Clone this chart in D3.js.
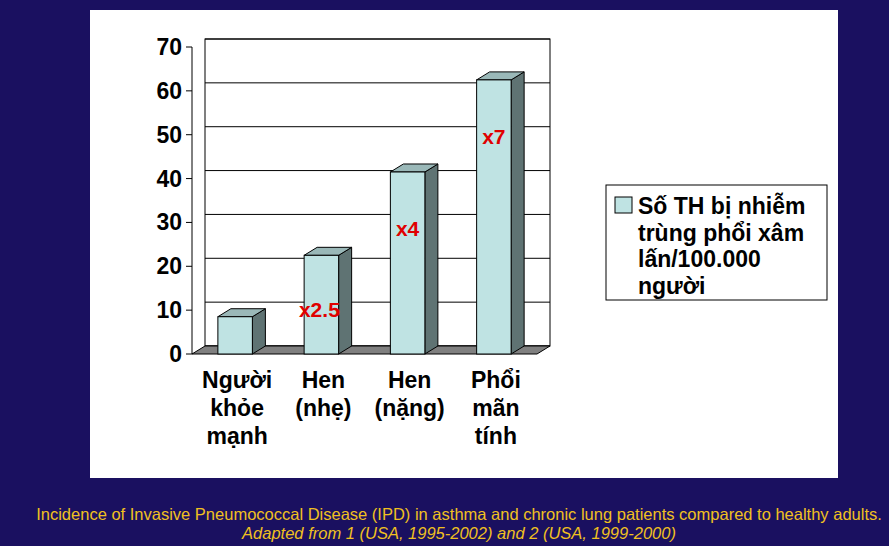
<!DOCTYPE html>
<html><head><meta charset="utf-8">
<script src="https://cdn.jsdelivr.net/npm/d3@7"></script>
<style>body{margin:0;background:#1a1060;}svg{display:block}</style>
</head><body>
<script>
const categories = [["Người", "khỏe", "mạnh"], ["Hen", "(nhẹ)"], ["Hen", "(nặng)"], ["Phổi", "mãn", "tính"]];
const values = [8.5, 22.5, 41.5, 62.5];
const multipliers = ["", "x2.5", "x4", "x7"];
const ticks = [0, 10, 20, 30, 40, 50, 60, 70];
const legendLines = ["Số TH bị nhiễm", "trùng phổi xâm", "lấn/100.000", "người"];
const footer = ["Incidence of Invasive Pneumococcal Disease (IPD) in asthma and chronic lung patients compared to healthy adults.",
  "Adapted from 1 (USA, 1995-2002) and 2 (USA, 1999-2000)"];

const W = 889, H = 546, dx = 13, dy = 8;
const svg = d3.select("body").append("svg").attr("width", W).attr("height", H)
  .attr("font-family", "Arial, 'Liberation Sans', sans-serif");
svg.append("rect").attr("width", W).attr("height", H).attr("fill", "#1a1060");
svg.append("rect").attr("x", 90).attr("y", 10).attr("width", 748).attr("height", 468).attr("fill", "#fff");

const x = d3.scaleBand().domain(d3.range(values.length)).range([192, 537]).paddingInner(0.6).paddingOuter(0.3);
const y = d3.scaleLinear().domain([0, 70]).range([354, 47]);
const x0 = x.range()[0], x1 = x.range()[1];

const g = svg.append("g");
// back wall + gridlines
g.append("rect").attr("x", x0 + dx).attr("y", y(70) - dy).attr("width", x1 - x0)
  .attr("height", y(0) - y(70)).attr("fill", "#fff").attr("stroke", "#000");
g.selectAll("line.grid").data(ticks).join("line")
  .attr("x1", x0 + dx).attr("x2", x1 + dx)
  .attr("y1", d => y(d) - dy).attr("y2", d => y(d) - dy).attr("stroke", "#000");
// floor
g.append("path").attr("d", `M${x0},${y(0)}L${x0 + dx},${y(0) - dy}L${x1 + dx},${y(0) - dy}L${x1},${y(0)}Z`)
  .attr("fill", "#808080").attr("stroke", "#000");

// axis
g.selectAll("text.tick").data(ticks).join("text")
  .attr("x", 182).attr("y", d => y(d) + 8).attr("text-anchor", "end")
  .attr("font-size", 23).attr("font-weight", "bold").attr("fill", "#000").text(d => d);
g.selectAll("line.tk").data(ticks).join("line")
  .attr("x1", x0 - 6).attr("x2", x0).attr("y1", d => y(d)).attr("y2", d => y(d)).attr("stroke", "#000");
g.append("line").attr("x1", x0).attr("x2", x0).attr("y1", y(0)).attr("y2", y(70)).attr("stroke", "#000");

// bars
const bars = g.selectAll("g.bar").data(values).join("g");
bars.append("path").attr("d", (d, i) => {
  const a = x(i) + x.bandwidth(), t = y(d);
  return `M${a},${t}L${a + dx},${t - dy}L${a + dx},${y(0) - dy}L${a},${y(0)}Z`;
}).attr("fill", "#5f7373").attr("stroke", "#000");
bars.append("path").attr("d", (d, i) => {
  const a = x(i), b = a + x.bandwidth(), t = y(d);
  return `M${a},${t}L${a + dx},${t - dy}L${b + dx},${t - dy}L${b},${t}Z`;
}).attr("fill", "#9ab8b8").attr("stroke", "#000");
bars.append("rect").attr("x", (d, i) => x(i)).attr("y", d => y(d)).attr("width", x.bandwidth())
  .attr("height", d => y(0) - y(d)).attr("fill", "#bfe3e3").attr("stroke", "#000");

// multipliers
g.selectAll("text.mul").data(values).join("text")
  .attr("x", (d, i) => x(i) + x.bandwidth() / 2 - (i === 1 ? 2 : 0)).attr("y", (d, i) => y(d) + 64 - (i === 1 ? 2 : 0))
  .attr("text-anchor", "middle").attr("font-size", 21).attr("font-weight", "bold").attr("fill", "#e00000")
  .text((d, i) => multipliers[i]);

// category labels
categories.forEach((lines, i) => {
  lines.forEach((t, j) => {
    g.append("text").attr("x", x(i) + x.bandwidth() / 2 + 2).attr("y", 388 + j * 28)
      .attr("text-anchor", "middle").attr("font-size", 23).attr("font-weight", "bold").text(t);
  });
});

// legend
svg.append("rect").attr("x", 606).attr("y", 185).attr("width", 221).attr("height", 115).attr("fill", "#fff").attr("stroke", "#000");
svg.append("rect").attr("x", 615).attr("y", 197).attr("width", 17).attr("height", 16).attr("fill", "#bfe3e3").attr("stroke", "#000");
legendLines.forEach((t, j) => svg.append("text").attr("x", 638).attr("y", 214 + j * 26.5)
  .attr("font-size", 23).attr("font-weight", "bold").text(t));

// footer
footer.forEach((t, j) => svg.append("text").attr("x", 459).attr("y", 520 + j * 19)
  .attr("text-anchor", "middle").attr("font-size", 16.5).attr("fill", "#f0c020")
  .attr("font-style", j ? "italic" : "normal").text(t));
</script>
</body></html>
